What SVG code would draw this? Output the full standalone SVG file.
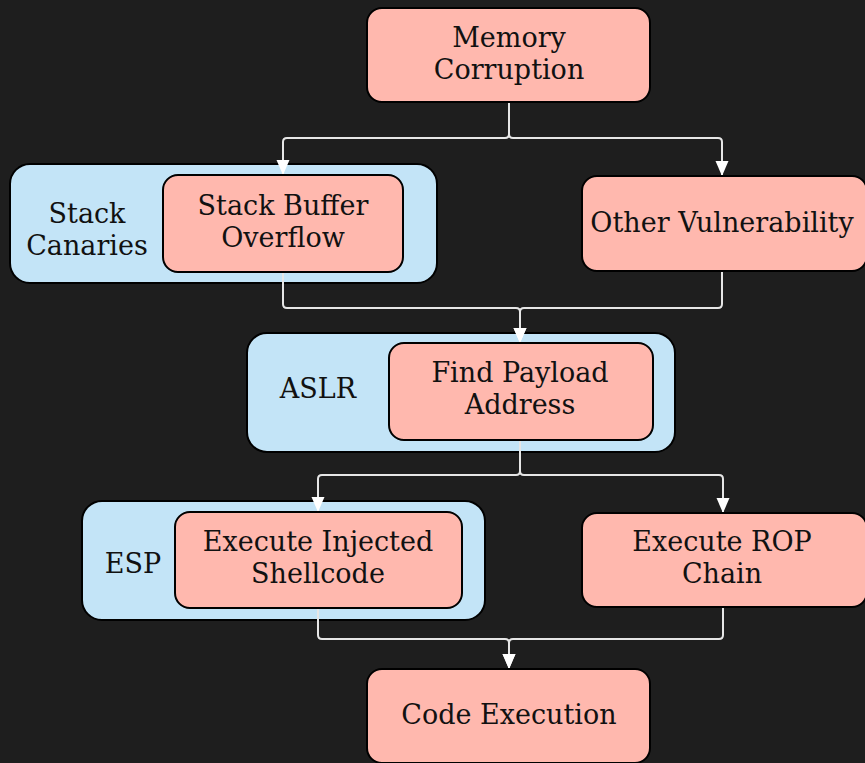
<svg xmlns="http://www.w3.org/2000/svg" width="865" height="763" viewBox="0 0 865 763">
<style>
.bg{fill:#1e1e1e}
.node{fill:#ffb8ae;stroke:#000;stroke-width:2}
.cluster{fill:#c3e4f7;stroke:#000;stroke-width:2}
.t{font-family:'DejaVu Serif','Liberation Serif',serif;font-size:27px;fill:#111;text-anchor:middle}
.edge{fill:none;stroke:#e6e6e6;stroke-width:2;marker-end:url(#arrow)}
</style>
<defs>
<marker id="arrow" markerUnits="userSpaceOnUse" markerWidth="16" markerHeight="14" refX="15" refY="6.5" orient="auto">
<path d="M0,0 L15,6.5 L0,13 z" fill="#ffffff"/>
</marker>
</defs>
<rect class="bg" x="0" y="0" width="865" height="763"/>

<g id="cluster-stack-canaries">
<rect class="cluster" x="10" y="164" width="427" height="119" rx="20"/>
<text class="t" x="87" y="223">Stack</text>
<text class="t" x="87" y="255">Canaries</text>
</g>
<g id="cluster-aslr">
<rect class="cluster" x="247" y="333" width="428" height="119" rx="20"/>
<text class="t" x="318" y="398">ASLR</text>
</g>
<g id="cluster-esp">
<rect class="cluster" x="82" y="501" width="403" height="119" rx="20"/>
<text class="t" x="133" y="573">ESP</text>
</g>

<g id="connectors">
<path class="edge" d="M509,102 V134 Q509,138 505,138 H287 Q283,138 283,142 V175"/>
<path class="edge" d="M509,102 V134 Q509,138 513,138 H718 Q722,138 722,142 V176"/>
<path class="edge" d="M283,272 V304 Q283,308 287,308 H516 Q520,308 520,312 V343"/>
<path class="edge" d="M722,271 V304 Q722,308 718,308 H524 Q520,308 520,312 V343"/>
<path class="edge" d="M520,440 V471 Q520,475 516,475 H322 Q318,475 318,479 V512"/>
<path class="edge" d="M520,440 V471 Q520,475 524,475 H719 Q723,475 723,479 V513"/>
<path class="edge" d="M318,608 V635 Q318,639 322,639 H505 Q509,639 509,643 V669"/>
<path class="edge" d="M723,607 V635 Q723,639 719,639 H513 Q509,639 509,643 V669"/>
</g>

<g id="memory-corruption">
<rect class="node" x="367" y="8" width="283" height="94" rx="15"/>
<text class="t" x="509" y="47">Memory</text>
<text class="t" x="509" y="79">Corruption</text>
</g>
<g id="stack-buffer-overflow">
<rect class="node" x="163" y="175" width="240" height="97" rx="15"/>
<text class="t" x="283" y="215">Stack Buffer</text>
<text class="t" x="283" y="247">Overflow</text>
</g>
<g id="other-vulnerability">
<rect class="node" x="582" y="176" width="285" height="95" rx="15"/>
<text class="t" x="722" y="232">Other Vulnerability</text>
</g>
<g id="find-payload-address">
<rect class="node" x="389" y="343" width="264" height="97" rx="15"/>
<text class="t" x="520" y="382">Find Payload</text>
<text class="t" x="520" y="414">Address</text>
</g>
<g id="execute-injected-shellcode">
<rect class="node" x="175" y="512" width="287" height="96" rx="15"/>
<text class="t" x="318" y="551">Execute Injected</text>
<text class="t" x="318" y="583">Shellcode</text>
</g>
<g id="execute-rop-chain">
<rect class="node" x="582" y="513" width="285" height="94" rx="15"/>
<text class="t" x="722" y="551">Execute ROP</text>
<text class="t" x="722" y="583">Chain</text>
</g>
<g id="code-execution">
<rect class="node" x="367" y="669" width="283" height="94" rx="15"/>
<text class="t" x="509" y="724">Code Execution</text>
</g>
</svg>
